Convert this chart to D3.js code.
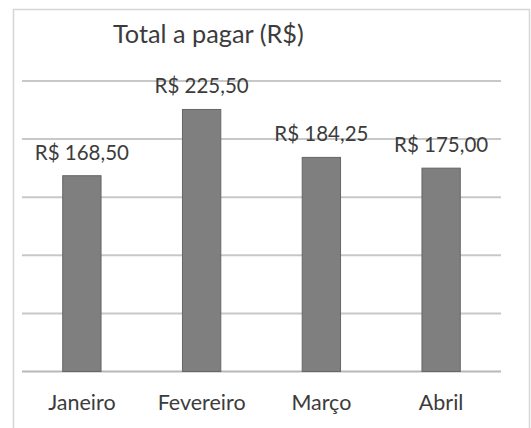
<!DOCTYPE html>
<html>
<head>
<meta charset="utf-8">
<script src="https://cdn.jsdelivr.net/npm/d3@7"></script>
<style>
  html, body { margin: 0; padding: 0; background: #ffffff; }
  svg { display: block; }
</style>
</head>
<body>
<svg id="chart" width="531" height="428"></svg>
<script>
const categories = ["Janeiro", "Fevereiro", "Março", "Abril"];
const values = [168.50, 225.50, 184.25, 175.00];
const yTicks = [0, 50, 100, 150, 200, 250];
const title = "Total a pagar (R$)";

const svg = d3.select("#chart");
const font = "Lato, 'Open Sans', sans-serif";
const textColor = "#3c3c3c";

// chart area border
svg.append("rect")
  .attr("x", 13.5).attr("y", 9.5)
  .attr("width", 516).attr("height", 430)
  .attr("fill", "#ffffff")
  .attr("stroke", "#d6d6d6")
  .attr("stroke-width", 1.5);

const x = d3.scaleBand()
  .domain(categories)
  .range([22, 501])
  .paddingInner(0.68)
  .paddingOuter(0.34);

const y = d3.scaleLinear()
  .domain([0, 250])
  .range([371.5, 81]);

// gridlines
svg.append("g")
  .selectAll("line")
  .data(yTicks)
  .join("line")
  .attr("x1", 22).attr("x2", 501)
  .attr("y1", d => y(d)).attr("y2", d => y(d))
  .attr("stroke", d => d === 0 ? "#b8b8b8" : "#c8c8c8")
  .attr("stroke-width", 2);

// bars
svg.append("g")
  .selectAll("rect")
  .data(values)
  .join("rect")
  .attr("x", (d, i) => x(categories[i]))
  .attr("y", d => y(d))
  .attr("width", x.bandwidth())
  .attr("height", d => y(0) - y(d))
  .attr("fill", "#7f7f7f")
  .attr("stroke", "#666666")
  .attr("stroke-width", 1);

// value labels
const fmt = v => "R$ " + v.toFixed(2).replace(".", ",");
svg.append("g")
  .selectAll("text")
  .data(values)
  .join("text")
  .attr("x", (d, i) => x(categories[i]) + x.bandwidth() / 2)
  .attr("y", d => y(d) - 16)
  .attr("text-anchor", "middle")
  .attr("font-family", font)
  .attr("font-size", 20.5)
  .attr("fill", textColor)
  .text(fmt);

// category axis labels
const xAxis = d3.axisBottom(x).tickSize(0).tickPadding(0);
const gx = svg.append("g")
  .attr("transform", "translate(0,371.5)")
  .call(xAxis);
gx.select(".domain").remove();
gx.selectAll("text")
  .attr("dy", 0)
  .attr("y", 38.5)
  .attr("font-family", font)
  .attr("font-size", 21.5)
  .attr("fill", textColor);

// title
svg.append("text")
  .attr("x", 113)
  .attr("y", 43)
  .attr("font-family", font)
  .attr("font-size", 25.3)
  .attr("fill", textColor)
  .text(title);
</script>
</body>
</html>
